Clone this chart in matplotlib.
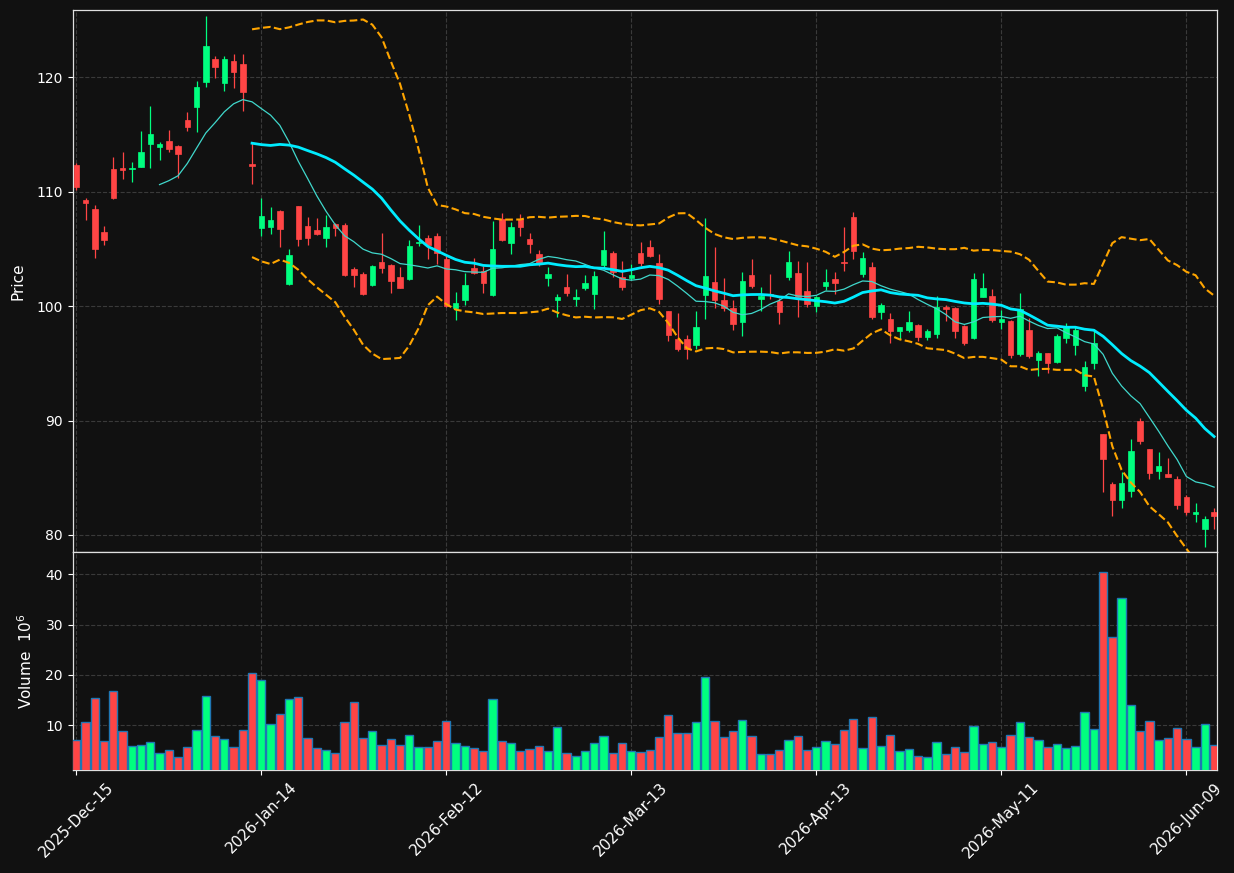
import numpy as np
import pandas as pd
import matplotlib
matplotlib.use("Agg")
import matplotlib.pyplot as plt

# ---- data ----
opens = [112.36, 109.31, 108.52, 106.52, 112.01, 112.09, 111.99, 112.21, 114.22, 113.95,
         114.45, 114.04, 116.28, 117.44, 119.62, 121.60, 119.53, 121.42, 121.19, 112.47,
         106.81, 106.95, 108.35, 101.98, 108.78, 107.04, 106.69, 106.00, 107.21, 107.13,
         103.29, 102.85, 101.89, 103.89, 103.63, 102.56, 102.41, 105.52, 105.99, 106.16,
         104.15, 99.82, 100.52, 103.34, 103.08, 100.96, 107.60, 105.49, 107.64, 105.90,
         104.59, 102.44, 100.52, 101.71, 100.61, 101.63, 101.05, 103.57, 104.68, 102.59,
         102.50, 104.68, 105.20, 103.81, 99.62, 97.09, 97.09, 96.60, 100.96, 102.15,
         100.58, 99.88, 98.61, 102.76, 100.61, 101.05, 100.49, 102.53, 102.94, 101.37,
         100.03, 101.80, 102.41, 103.89, 107.82, 102.79, 103.46, 99.48, 98.84, 97.82,
         97.91, 98.31, 97.33, 97.56, 99.89, 99.80, 98.29, 97.21, 100.79, 100.91,
         98.61, 98.67, 95.79, 97.88, 95.30, 95.94, 95.12, 97.24, 96.60, 93.03,
         95.01, 88.82, 84.46, 83.09, 83.87, 89.95, 87.51, 85.62, 85.33, 84.89,
         83.32, 81.78, 80.48, 82.04]
highs = [112.56, 109.45, 108.87, 107.04, 113.02, 113.52, 112.65, 115.29, 117.47, 114.33,
         115.41, 114.13, 116.98, 119.68, 125.35, 121.89, 121.86, 122.03, 122.03, 114.33,
         109.42, 108.67, 108.43, 105.03, 108.78, 107.79, 107.71, 108.00, 107.27, 107.27,
         103.46, 102.95, 103.63, 106.39, 103.72, 103.43, 105.75, 107.09, 106.22, 106.39,
         104.36, 101.25, 102.90, 104.21, 103.49, 107.41, 108.14, 107.35, 108.05, 106.39,
         104.88, 103.43, 101.08, 102.85, 101.51, 102.73, 103.05, 106.57, 104.85, 103.98,
         103.72, 105.64, 105.81, 104.59, 99.62, 99.36, 97.44, 99.59, 107.70, 105.17,
         102.47, 100.58, 102.99, 104.13, 101.69, 102.85, 100.73, 104.85, 103.98, 103.89,
         100.87, 103.26, 103.02, 106.92, 108.22, 104.74, 103.86, 100.29, 99.36, 98.20,
         99.59, 98.40, 97.97, 100.93, 100.06, 99.89, 98.38, 102.91, 102.91, 101.52,
         99.66, 98.78, 101.17, 98.93, 96.05, 95.94, 97.56, 98.49, 98.20, 95.21,
         98.00, 88.82, 84.60, 85.47, 88.35, 90.18, 87.51, 87.22, 86.69, 85.13,
         83.50, 82.80, 81.61, 82.33]
lows = [110.18, 107.50, 104.22, 105.32, 109.36, 111.11, 110.90, 112.15, 112.07, 112.76,
        113.52, 111.19, 115.29, 115.20, 119.13, 119.97, 118.84, 119.04, 117.09, 110.67,
        106.11, 106.31, 105.15, 101.87, 105.24, 105.35, 106.20, 105.18, 106.11, 102.62,
        101.69, 101.00, 101.74, 102.90, 101.16, 101.57, 102.29, 105.23, 104.13, 103.72,
        99.94, 98.75, 100.14, 102.79, 101.16, 100.93, 105.70, 104.56, 106.13, 104.62,
        103.55, 101.77, 99.07, 100.87, 100.00, 101.40, 99.77, 103.34, 102.56, 101.40,
        102.33, 103.55, 104.30, 100.20, 96.95, 96.08, 95.41, 96.25, 98.90, 99.86,
        99.56, 97.94, 97.41, 101.60, 99.56, 100.67, 98.43, 102.30, 99.07, 99.94,
        99.48, 101.45, 101.10, 103.08, 104.13, 102.56, 98.84, 98.84, 96.75, 97.15,
        97.73, 96.98, 97.04, 97.24, 98.70, 97.24, 96.63, 97.16, 100.79, 98.61,
        98.03, 95.50, 95.64, 95.50, 93.90, 94.19, 95.06, 96.81, 95.75, 92.59,
        94.54, 83.73, 81.64, 82.33, 83.29, 87.92, 84.89, 84.89, 85.04, 82.25,
        81.70, 81.09, 78.93, 80.53]
closes = [110.38, 108.99, 104.97, 105.76, 109.45, 111.95, 112.09, 113.49, 115.06, 114.19,
          113.78, 113.32, 115.70, 119.16, 122.73, 120.93, 121.60, 120.49, 118.75, 112.27,
          107.91, 107.56, 106.78, 104.51, 105.91, 106.00, 106.34, 106.95, 106.86, 102.77,
          102.71, 101.04, 103.51, 103.31, 102.18, 101.57, 105.29, 105.64, 105.37, 104.65,
          100.00, 100.32, 101.89, 102.90, 102.00, 105.03, 105.75, 106.95, 106.89, 105.41,
          103.81, 102.85, 100.78, 101.19, 100.84, 102.06, 102.67, 104.94, 102.96, 101.66,
          102.76, 103.81, 104.36, 100.67, 97.47, 96.25, 96.25, 98.14, 102.67, 100.58,
          99.80, 98.43, 102.24, 101.80, 100.93, 100.95, 99.53, 103.84, 100.78, 100.17,
          100.81, 102.15, 102.00, 103.75, 104.80, 104.21, 99.04, 100.12, 97.82, 98.14,
          98.58, 97.33, 97.79, 99.95, 99.71, 97.82, 96.78, 102.39, 101.60, 98.78,
          98.84, 95.70, 99.71, 95.64, 95.94, 95.03, 97.42, 98.14, 97.90, 94.66,
          96.81, 86.66, 83.09, 84.54, 87.33, 88.21, 85.44, 86.05, 85.10, 82.65,
          81.96, 81.96, 81.41, 81.64]
volumes = [6.99, 10.59, 15.33, 6.79, 16.73, 8.79, 5.79, 5.99, 6.59, 4.39,
           4.99, 3.59, 5.59, 8.99, 15.79, 7.79, 7.19, 5.59, 8.99, 20.39,
           18.99, 10.19, 12.19, 15.19, 15.59, 7.39, 5.39, 4.99, 4.39, 10.59,
           14.59, 7.39, 8.79, 5.99, 7.19, 5.99, 7.99, 5.59, 5.59, 6.79,
           10.79, 6.39, 5.79, 5.39, 4.79, 15.19, 6.79, 6.39, 4.79, 5.19,
           5.79, 4.79, 9.59, 4.39, 3.79, 4.79, 6.39, 7.79, 4.39, 6.39,
           4.79, 4.59, 4.99, 7.59, 11.99, 8.39, 8.39, 10.59, 19.59, 10.79,
           7.59, 8.79, 10.99, 7.79, 4.19, 4.19, 4.99, 6.99, 7.79, 4.99,
           5.59, 6.79, 6.19, 8.99, 11.19, 5.39, 11.59, 5.79, 7.99, 4.79,
           5.19, 3.79, 3.59, 6.59, 4.19, 5.59, 4.59, 9.79, 6.19, 6.59,
           5.59, 7.99, 10.59, 7.59, 6.99, 5.59, 6.19, 5.39, 5.79, 12.59,
           9.19, 40.39, 27.59, 35.19, 13.99, 8.79, 10.79, 6.99, 7.39, 9.39,
           7.19, 5.59, 10.19, 5.99]
holidays = ["2025-12-25", "2026-01-01", "2026-01-19", "2026-02-16", "2026-04-03", "2026-05-25"]
start_date = "2025-12-15"

# ---- derived ----
dates = pd.bdate_range(start=start_date, periods=len(closes), freq="C", holidays=holidays)
df = pd.DataFrame({"Open": opens, "High": highs, "Low": lows, "Close": closes, "Volume": volumes},
                  index=dates)
x = np.arange(len(df))
mav10 = df["Close"].rolling(10).mean()
mav20 = df["Close"].rolling(20).mean()
std20 = df["Close"].rolling(20).std(ddof=0)
upper = mav20 + 2 * std20
lower = mav20 - 2 * std20

BG = "#111111"
UP = "#00ff7f"
DOWN = "#ff4545"
GRID = "#3a3a3a"

fig = plt.figure(figsize=(12.34, 8.73), dpi=100, facecolor=BG)
ax = fig.add_axes([0.0589, 0.3677, 0.9276, 0.6208], facecolor=BG)
axv = fig.add_axes([0.0589, 0.118, 0.9276, 0.2497], facecolor=BG, sharex=ax)

up = df["Close"] >= df["Open"]
colors = np.where(up, UP, DOWN)

# wicks
ax.vlines(x, df["Low"], df["High"], colors=colors, linewidth=0.9, zorder=2)
# bodies
body_bottom = np.minimum(df["Open"], df["Close"])
body_h = np.maximum(np.abs(df["Close"] - df["Open"]), 0.06)
ax.bar(x, body_h, bottom=body_bottom, width=0.6, color=colors, edgecolor=colors,
       linewidth=0.5, zorder=3)

ax.plot(x, mav10, color="#40d8cc", linewidth=0.9, zorder=4)
ax.plot(x, mav20, color="#00ecff", linewidth=2.0, zorder=4)
ax.plot(x, upper, color="#ffa500", linewidth=1.5, linestyle="--", zorder=4)
ax.plot(x, lower, color="#ffa500", linewidth=1.5, linestyle="--", zorder=4)

axv.bar(x, df["Volume"], width=0.9, color=colors, edgecolor="#1f77b4", linewidth=1.0, zorder=3)

ax.set_xlim(-0.39, 123.35)
ax.set_ylim(78.5, 125.9)
axv.set_ylim(0.3 * min(volumes), 1.1 * max(volumes))

ticks = x[::20]
axv.set_xticks(ticks)
axv.set_xticklabels([d.strftime("%Y-%b-%d") for d in dates[ticks]], rotation=45, ha="center")
ax.set_yticks([80, 90, 100, 110, 120])
axv.set_yticks([10, 20, 30, 40])
plt.setp(ax.get_xticklabels(), visible=False)

for a in (ax, axv):
    a.grid(True, color=GRID, linestyle="--", linewidth=0.8)
    a.set_axisbelow(True)
    for s in a.spines.values():
        s.set_color("#e0e0e0")
        s.set_linewidth(0.9)
    a.tick_params(colors="white", labelcolor="white", labelsize=10)
axv.tick_params(axis="x", labelsize=11)

ax.set_ylabel("Price", color="white", fontsize=11)
axv.set_ylabel("Volume  $10^{6}$", color="white", fontsize=11)
ax.yaxis.set_label_coords(-0.0415, 0.5)
axv.yaxis.set_label_coords(-0.0328, 0.5)

fig.savefig("out.png", dpi=100, facecolor=BG)
